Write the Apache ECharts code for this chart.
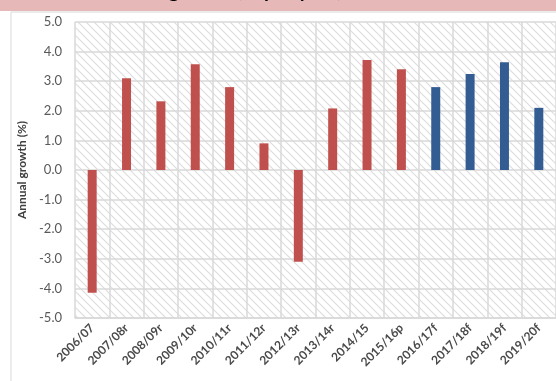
<!DOCTYPE html>
<html>
<head>
<meta charset="utf-8">
<script src="https://cdn.jsdelivr.net/npm/echarts@6/dist/echarts.min.js"></script>
<style>
  html, body { margin: 0; padding: 0; background: #ffffff; }
  #chart { width: 556px; height: 381px; }
</style>
</head>
<body>
<div id="chart"></div>
<script>
// Financial years (r = revised, p = preliminary, f = forecast)
const years = ['2006/07', '2007/08r', '2008/09r', '2009/10r', '2010/11r', '2011/12r', '2012/13r',
               '2013/14r', '2014/15', '2015/16p', '2016/17f', '2017/18f', '2018/19f', '2019/20f'];
// Annual growth, percent
const growth = [-4.15, 3.1, 2.32, 3.57, 2.8, 0.9, -3.1, 2.08, 3.72, 3.4, 2.8, 3.24, 3.64, 2.1];
const yTicks = [-5, -4, -3, -2, -1, 0, 1, 2, 3, 4, 5];

const ACTUAL = '#C0504D';
const FORECAST = '#335D92';
const GRID = '#D9D9D9';

// Diagonal hatch tile for the plot background
const tile = document.createElement('canvas');
tile.width = 8; tile.height = 8;
const tc = tile.getContext('2d');
tc.fillStyle = '#ffffff';
tc.fillRect(0, 0, 8, 8);
tc.strokeStyle = '#dddddd';
tc.lineWidth = 1.2;
for (const off of [-8, 0, 8]) {
  tc.beginPath();
  tc.moveTo(off - 1, -1);
  tc.lineTo(off + 9, 9);
  tc.stroke();
}

const chart = echarts.init(document.getElementById('chart'), null, { renderer: 'canvas' });

chart.setOption({
  animation: false,
  backgroundColor: '#ffffff',
  textStyle: { fontFamily: 'Lato' },
  graphic: [
    { type: 'rect', z: -100, shape: { x: 0, y: 0, width: 556, height: 11 }, style: { fill: '#E6B8B7' } },
    { type: 'rect', z: -100, shape: { x: 11, y: 12, width: 600, height: 400 },
      style: { fill: '#ffffff', stroke: GRID, lineWidth: 1 } },
    { type: 'text', z: 10, left: 'center', top: -19,
      style: { text: 'Real economic growth (% per year), 2006/07–2019/20',
               font: 'bold 20px Lato', fill: '#000000' } }
  ],
  grid: {
    left: 75, top: 22, width: 486, height: 296,
    show: true, borderWidth: 0,
    backgroundColor: { image: tile, repeat: 'repeat' }
  },
  xAxis: {
    type: 'category',
    data: years,
    boundaryGap: true,
    axisLine: { onZero: false, lineStyle: { color: GRID, width: 1.5 } },
    axisTick: { show: false },
    splitLine: { show: true, interval: 0, lineStyle: { color: GRID, width: 1.5 } },
    axisLabel: {
      interval: 0, rotate: 45, margin: 8,
      fontSize: 12, fontWeight: 'bold', color: '#4a4a4a', fontFamily: 'Lato'
    }
  },
  yAxis: {
    type: 'value',
    min: yTicks[0], max: yTicks[yTicks.length - 1], interval: 1,
    name: 'Annual growth (%)',
    nameLocation: 'middle', nameGap: 46,
    nameTextStyle: { fontSize: 12, fontWeight: 'bold', color: '#404040', fontFamily: 'Lato' },
    axisLine: { show: false },
    axisTick: { show: false },
    splitLine: { show: true, lineStyle: { color: GRID, width: 1.5 } },
    axisLabel: {
      margin: 13, fontSize: 13, color: '#595959', fontFamily: 'Lato',
      formatter: v => v.toFixed(1)
    }
  },
  series: [{
    type: 'bar',
    barWidth: 9,
    data: growth.map((v, i) => ({
      value: v,
      itemStyle: { color: years[i].endsWith('f') ? FORECAST : ACTUAL }
    }))
  }]
});
</script>
</body>
</html>
